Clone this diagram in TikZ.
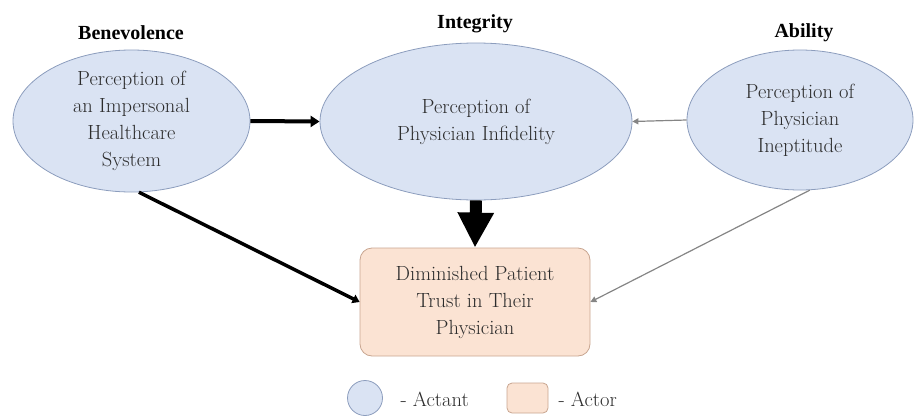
\documentclass[tikz,border=0pt]{standalone}
\usepackage{fontspec}
\newfontfamily\headfont{Liberation Serif}
\usetikzlibrary{shapes.geometric,arrows.meta}
\definecolor{actantfill}{HTML}{DAE3F3}
\definecolor{actantdraw}{HTML}{8C9DBD}
\definecolor{actorfill}{HTML}{FBE3D3}
\definecolor{actordraw}{HTML}{C8A590}
\definecolor{txt}{HTML}{2C2C2C}
\definecolor{thin}{HTML}{858585}
\tikzset{
  actant/.style={ellipse,draw=actantdraw,fill=actantfill,line width=0.8pt,inner sep=0pt},
  actor/.style={draw=actordraw,fill=actorfill,line width=0.8pt,rounded corners=12pt,inner sep=0pt},
  body/.style={text=txt,align=center,font=\fontsize{20.5}{27}\selectfont},
  head/.style={text=black,font=\headfont\fontsize{20}{24}\selectfont\bfseries},
  thickarrow/.style={line width=4pt,-{Triangle[width=11pt,length=9pt]}},
  thinarrow/.style={draw=thin,line width=1.2pt,-{Triangle[width=6pt,length=6pt]}},
  bigarrow/.style={line width=12pt,-{Triangle[width=34pt,length=35pt]}}
}
\begin{document}
\begin{tikzpicture}[x=1pt,y=-1pt]
\useasboundingbox (0,0) rectangle (914,418);
% labels
\node[head] (hb) at (131,33) {Benevolence};
\node[head] (hi) at (475,24) {Integrity};
\node[head] (ha) at (804,33) {Ability};
% ellipses
\node[actant,minimum width=237pt,minimum height=142pt] (L) at (131.5,121) {};
\node[actant,minimum width=312pt,minimum height=157pt] (M) at (476,121.5) {};
\node[actant,minimum width=226pt,minimum height=140pt] (R) at (800,120) {};
\node[body] (Lt) at (L.center) {Perception of\\an Impersonal\\Healthcare\\System};
\node[body] (Mt) at (M.center) {Perception of\\Physician Infidelity};
\node[body] (Rt) at (R.center) {Perception of\\Physician\\Ineptitude};
% actor box
\node[actor,minimum width=230pt,minimum height=108pt] (B) at (475,302) {};
\node[body] (Bt) at (B.center) {Diminished Patient\\Trust in Their\\Physician};
% connectors
\draw[thickarrow] (L.east) -- (M.west);
\draw[thinarrow] (R.west) -- (M.east);
\draw[bigarrow] (M.south) -- (B.north);
\draw[line width=3.5pt,-{Triangle[width=9pt,length=7pt]}] (L.-84) -- (B.west);
\draw[thinarrow] (R.-82) -- (B.east);
% legend
\node[actant,circle,minimum size=35pt] (lc) at (365,398) {};
\node[body,anchor=west] (lct) at (397,399) {- Actant};
\node[actor,rounded corners=5pt,minimum width=41pt,minimum height=30pt] (lr) at (527.5,398) {};
\node[body,anchor=west] (lrt) at (555,399) {- Actor};
\end{tikzpicture}
\end{document}
